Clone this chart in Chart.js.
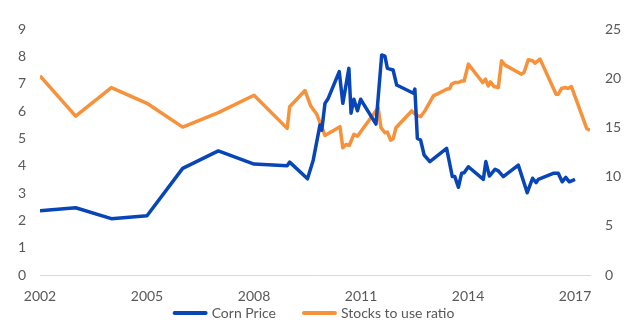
<!DOCTYPE html>
<html>
<head>
<meta charset="utf-8">
<script src="https://cdn.jsdelivr.net/npm/chart.js@4/dist/chart.umd.min.js"></script>
<style>
html,body{margin:0;padding:0;background:#fff;}
#wrap{width:629px;height:331px;}
</style>
</head>
<body>
<div id="wrap"><canvas id="chart"></canvas></div>
<script>
// decimal years
let cornDates = [2002.0, 2003.0, 2004.0, 2005.0, 2006.0, 2007.0, 2008.0, 2008.93, 2009.0, 2009.5, 2009.66, 2009.85, 2009.9, 2009.99, 2010.08, 2010.39, 2010.49, 2010.66, 2010.72, 2010.8, 2010.9, 2010.99, 2011.06, 2011.42, 2011.58, 2011.67, 2011.74, 2011.9, 2012.0, 2012.47, 2012.51, 2012.58, 2012.67, 2012.77, 2012.93, 2013.4, 2013.56, 2013.63, 2013.73, 2013.82, 2013.89, 2014.01, 2014.43, 2014.5, 2014.6, 2014.76, 2014.85, 2014.99, 2015.41, 2015.66, 2015.81, 2015.91, 2015.97, 2016.39, 2016.53, 2016.64, 2016.74, 2016.84, 2017.0];
let cornPrice = [2.35, 2.46, 2.06, 2.17, 3.90, 4.54, 4.06, 4.0, 4.13, 3.52, 4.2, 5.49, 5.3, 6.28, 6.46, 7.44, 6.28, 7.56, 5.92, 6.43, 6.01, 6.43, 6.28, 5.52, 8.05, 8.01, 7.56, 7.5, 6.95, 6.65, 6.8, 5.0, 4.94, 4.39, 4.15, 4.63, 3.6, 3.6, 3.21, 3.72, 3.74, 3.96, 3.5, 4.15, 3.62, 3.87, 3.81, 3.6, 4.02, 3.01, 3.54, 3.38, 3.5, 3.72, 3.72, 3.41, 3.57, 3.41, 3.5];

let stockDates = [2002.0, 2003.0, 2004.0, 2005.0, 2006.0, 2007.0, 2008.0, 2008.93, 2009.0, 2009.43, 2009.59, 2009.76, 2009.99, 2010.41, 2010.49, 2010.58, 2010.67, 2010.8, 2010.9, 2011.48, 2011.56, 2011.67, 2011.74, 2011.83, 2011.9, 2011.98, 2012.42, 2012.56, 2012.67, 2012.79, 2013.03, 2013.4, 2013.49, 2013.54, 2013.63, 2013.73, 2013.82, 2013.89, 2014.01, 2014.41, 2014.49, 2014.57, 2014.63, 2014.73, 2014.85, 2014.94, 2015.04, 2015.5, 2015.57, 2015.69, 2015.81, 2015.88, 2016.02, 2016.47, 2016.53, 2016.62, 2016.74, 2016.8, 2016.9, 2017.33, 2017.42];
let stockRatio = [20.24, 16.15, 19.05, 17.45, 15.03, 16.5, 18.27, 14.9, 17.1, 18.75, 17.17, 16.33, 14.18, 15.07, 12.93, 13.27, 13.16, 14.29, 14.11, 17.0, 14.97, 14.46, 14.52, 13.7, 13.84, 14.97, 16.67, 16.22, 16.09, 16.67, 18.2, 18.88, 18.95, 19.39, 19.56, 19.56, 19.72, 19.72, 21.43, 19.56, 19.9, 19.21, 19.62, 19.15, 19.05, 21.77, 21.33, 20.41, 20.58, 21.87, 21.77, 21.53, 21.94, 18.37, 18.37, 18.95, 19.05, 18.95, 19.15, 14.87, 14.73];

let yearTicks = [2002, 2005, 2008, 2011, 2014, 2017];
let seriesNames = ["Corn Price", "Stocks to use ratio"];

const BLUE = "#0846b8";
const ORANGE = "#f7913a";
const TXT = "#595959";
const FONT = "Lato, 'Open Sans', sans-serif";

Chart.defaults.font.family = FONT;
Chart.defaults.font.size = 14;
Chart.defaults.color = TXT;

// legend drawn under the axis, excel style (line swatch, wide gap between items)
const bottomLegend = {
  id: "bottomLegend",
  afterDraw(chart) {
    let ctx = chart.ctx;
    ctx.save();
    ctx.font = "14px " + FONT;
    let sw = 35, gap = 4, itemGap = 26;
    let items = chart.data.datasets.map(ds => ({text: ds.label, color: ds.borderColor, w: ctx.measureText(ds.label).width}));
    let total = items.reduce((a, it) => a + sw + gap + it.w, 0) + itemGap * (items.length - 1);
    let x = chart.width / 2 - total / 2 - 1;
    let y = 313;
    items.forEach(it => {
      ctx.strokeStyle = it.color;
      ctx.lineWidth = 4;
      ctx.lineCap = "round";
      ctx.beginPath();
      ctx.moveTo(x + 2, y);
      ctx.lineTo(x + sw - 2, y);
      ctx.stroke();
      ctx.fillStyle = TXT;
      ctx.textBaseline = "middle";
      ctx.textAlign = "left";
      ctx.fillText(it.text, x + sw + gap, y);
      x += sw + gap + it.w + itemGap;
    });
    ctx.restore();
  }
};

new Chart(document.getElementById("chart"), {
  type: "line",
  data: {
    datasets: [
      {
        label: seriesNames[0],
        data: cornDates.map((d, i) => ({x: d, y: cornPrice[i]})),
        borderColor: BLUE,
        backgroundColor: BLUE,
        borderWidth: 3.5,
        pointRadius: 0,
        tension: 0,
        borderJoinStyle: "round",
        yAxisID: "y"
      },
      {
        label: seriesNames[1],
        data: stockDates.map((d, i) => ({x: d, y: stockRatio[i]})),
        borderColor: ORANGE,
        backgroundColor: ORANGE,
        borderWidth: 3.5,
        pointRadius: 0,
        tension: 0,
        borderJoinStyle: "round",
        yAxisID: "y1"
      }
    ]
  },
  plugins: [bottomLegend],
  options: {
    responsive: true,
    maintainAspectRatio: false,
    animation: false,
    layout: {padding: {top: 29, bottom: 27, left: 0, right: 0}},
    plugins: {
      legend: {display: false},
      tooltip: {enabled: false}
    },
    scales: {
      x: {
        type: "linear",
        min: 2002,
        max: 2017.42,
        afterBuildTicks: s => { s.ticks = yearTicks.map(v => ({value: v})); },
        grid: {display: false, drawTicks: false},
        border: {display: true, color: "#d9d9d9", width: 1},
        ticks: {padding: 13, maxRotation: 0, callback: v => String(v)},
        afterFit: s => { s.height = 29; }
      },
      y: {
        position: "left",
        min: 0,
        max: 9,
        grid: {display: false, drawTicks: false},
        border: {display: false},
        ticks: {stepSize: 1, padding: 14},
        afterFit: s => { s.width = 40; }
      },
      y1: {
        position: "right",
        min: 0,
        max: 25,
        grid: {display: false, drawTicks: false},
        border: {display: false},
        ticks: {stepSize: 5, padding: 15},
        afterFit: s => { s.width = 39; }
      }
    }
  }
});
</script>
</body>
</html>
